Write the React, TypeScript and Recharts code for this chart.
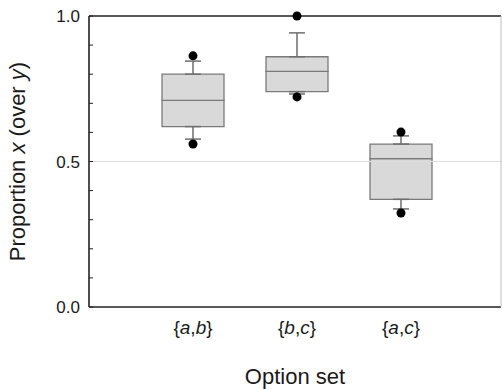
import React from "react";
import {
  ComposedChart,
  Bar,
  Scatter,
  XAxis,
  YAxis,
  ErrorBar,
  ReferenceLine,
} from "recharts";

// box plot summary per option set
const optionSets = ["{a,b}", "{b,c}", "{a,c}"];
const lowerQuartile = [0.62, 0.74, 0.37];
const medians = [0.71, 0.81, 0.51];
const upperQuartile = [0.8, 0.86, 0.56];
const whiskerLow = [0.577, 0.732, 0.337];
const whiskerHigh = [0.845, 0.942, 0.588];
const pointLow = [0.56, 0.722, 0.323];
const pointHigh = [0.863, 1.0, 0.601];

const yTicks = [0, 0.1, 0.2, 0.3, 0.4, 0.5, 0.6, 0.7, 0.8, 0.9, 1.0];
const labelledTicks = [0, 0.5, 1.0];
const guideValue = 0.5;

const FONT = "'Liberation Sans', Arial, Helvetica, sans-serif";

// stacked bars: invisible base up to Q1, then Q1->median, median->Q3
const rows = optionSets.map((name, i) => ({
  name,
  base: lowerQuartile[i],
  lowerBox: medians[i] - lowerQuartile[i],
  upperBox: upperQuartile[i] - medians[i],
  lowWhisker: [lowerQuartile[i] - whiskerLow[i], 0],
  highWhisker: [0, whiskerHigh[i] - upperQuartile[i]],
  dotLow: pointLow[i],
  dotHigh: pointHigh[i],
}));

const CategoryTick = (props: any) => {
  const { x, y, payload } = props;
  const parts = String(payload.value)
    .split(/([a-z])/)
    .filter((s) => s.length > 0);
  return (
    <text
      x={x}
      y={y + 27}
      textAnchor="middle"
      fontSize={19}
      fill="#1a1a1a"
      fontFamily={FONT}
    >
      {parts.map((p, i) =>
        /^[a-z]$/.test(p) ? (
          <tspan key={i} fontStyle="italic">
            {p}
          </tspan>
        ) : (
          <tspan key={i}>{p}</tspan>
        )
      )}
    </text>
  );
};

const ValueTick = (props: any) => {
  const { x, y, payload } = props;
  const v = payload.value;
  const show = labelledTicks.some((t) => Math.abs(t - v) < 1e-9);
  return (
    <g>
      <line x1={x} x2={x + 4} y1={y} y2={y} stroke="#222" strokeWidth={1} />
      {show && (
        <text
          x={x - 9}
          y={y + 6}
          textAnchor="end"
          fontSize={17}
          fill="#1a1a1a"
          fontFamily={FONT}
        >
          {v.toFixed(1)}
        </text>
      )}
    </g>
  );
};

const Dot = (props: any) => {
  const { cx, cy } = props;
  if (cx == null || cy == null) return null;
  return <circle cx={cx} cy={cy} r={4.5} fill="#000" />;
};

const YTitle = (props: any) => {
  const vb = props.viewBox || { x: 0, y: 0, width: 0, height: 0 };
  const cx = vb.x + 25;
  const cy = vb.y + vb.height / 2;
  return (
    <text
      x={cx}
      y={cy}
      transform={`rotate(-90, ${cx}, ${cy})`}
      textAnchor="middle"
      fontSize={22}
      fill="#1a1a1a"
      fontFamily={FONT}
    >
      Proportion <tspan fontStyle="italic">x</tspan> (over{" "}
      <tspan fontStyle="italic">y</tspan>)
    </text>
  );
};

const XTitle = (props: any) => {
  const vb = props.viewBox || { x: 0, y: 0, width: 0, height: 0 };
  return (
    <text
      x={vb.x + vb.width / 2}
      y={vb.y + 77}
      textAnchor="middle"
      fontSize={22}
      fill="#1a1a1a"
      fontFamily={FONT}
    >
      Option set
    </text>
  );
};

export default function App() {
  return (
    <div style={{ position: "absolute", left: 0, top: 0, background: "#fff" }}>
      <ComposedChart
        width={502}
        height={389}
        data={rows}
        margin={{ top: 16, right: 0, bottom: 0, left: 0 }}
      >
        <ReferenceLine y={guideValue} stroke="#dcdcdc" strokeWidth={1} />
        <ReferenceLine y={1} stroke="#222" strokeWidth={1.6} />
        <XAxis
          dataKey="name"
          type="category"
          height={82}
          padding={{ left: 52, right: 48 }}
          tick={<CategoryTick />}
          tickLine={false}
          tickSize={0}
          tickMargin={0}
          axisLine={{ stroke: "#222", strokeWidth: 1.6 }}
          interval={0}
          label={<XTitle />}
        />
        <YAxis
          type="number"
          domain={[0, 1]}
          ticks={yTicks}
          width={89}
          tick={<ValueTick />}
          tickLine={false}
          tickSize={0}
          tickMargin={0}
          interval={0}
          axisLine={{ stroke: "#222", strokeWidth: 1.6 }}
          label={<YTitle />}
        />
        {/* right-hand frame edge, light grey */}
        <YAxis
          yAxisId="right"
          orientation="right"
          type="number"
          domain={[0, 1]}
          ticks={yTicks}
          width={1}
          tick={false}
          tickLine={false}
          axisLine={{ stroke: "#bdbdbd", strokeWidth: 1 }}
        />
        <Bar
          dataKey="base"
          stackId="box"
          fill="transparent"
          stroke="none"
          barSize={62}
          isAnimationActive={false}
        >
          <ErrorBar
            dataKey="lowWhisker"
            direction="y"
            width={8}
            stroke="#6e6e6e"
            strokeWidth={1.5}
            isAnimationActive={false}
          />
        </Bar>
        <Bar
          dataKey="lowerBox"
          stackId="box"
          fill="#d9d9d9"
          stroke="#7a7a7a"
          strokeWidth={1.3}
          barSize={62}
          isAnimationActive={false}
        />
        <Bar
          dataKey="upperBox"
          stackId="box"
          fill="#d9d9d9"
          stroke="#7a7a7a"
          strokeWidth={1.3}
          barSize={62}
          isAnimationActive={false}
        >
          <ErrorBar
            dataKey="highWhisker"
            direction="y"
            width={8}
            stroke="#6e6e6e"
            strokeWidth={1.5}
            isAnimationActive={false}
          />
        </Bar>
        <Scatter
          yAxisId="right"
          dataKey="dotHigh"
          shape={<Dot />}
          isAnimationActive={false}
        />
        <Scatter dataKey="dotLow" shape={<Dot />} isAnimationActive={false} />
      </ComposedChart>
    </div>
  );
}
